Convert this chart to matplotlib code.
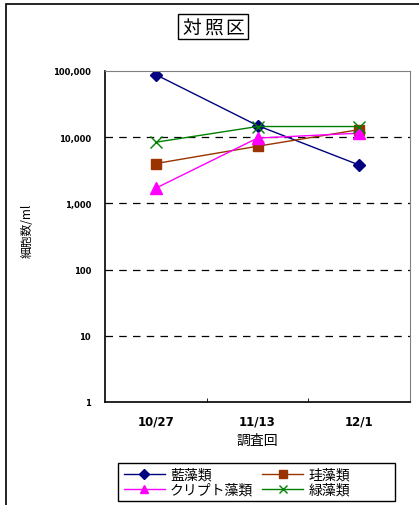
import numpy as np
import matplotlib.pyplot as plt
from matplotlib.patches import Rectangle
from matplotlib.ticker import FixedLocator, NullLocator

plt.rcParams['font.family'] = ['Noto Sans CJK JP', 'DejaVu Sans']

title = '対照区'
dates = ['10/27', '11/13', '12/1']
series_names = ['藍藻類', '珪藻類', 'クリプト藻類', '緑藻類']
blue_algae = [88000, 15000, 3800]
diatoms = [4000, 7300, 13000]
crypto = [1700, 9700, 11500]
green_algae = [8400, 14500, 14500]
y_ticks = [1, 10, 100, 1000, 10000, 100000]
y_labels = ['1', '10', '100', '1,000', '10,000', '100,000']

W, H = 419, 506
fig = plt.figure(figsize=(W / 100, H / 100), dpi=100)


def px_box(x0, y0, x1, y1, **kw):
    # rectangle given in pixel coords from the top-left corner
    fig.patches.append(Rectangle((x0 / W, 1 - y1 / H), (x1 - x0) / W, (y1 - y0) / H,
                                 transform=fig.transFigure, fill=False, **kw))


# outer frame
px_box(6, 5, 480, 520, edgecolor='black', linewidth=1.2)

ax = fig.add_axes([105 / W, 1 - 403 / H, (410 - 105) / W, (403 - 72) / H])
x = np.arange(len(dates))

l1, = ax.plot(x, blue_algae, color='#000080', marker='D', markersize=6, lw=1, label=series_names[0])
l2, = ax.plot(x, diatoms, color='#993300', marker='s', markersize=7, lw=1, label=series_names[1])
l3, = ax.plot(x, crypto, color='#FF00FF', marker='^', markersize=8, lw=1, label=series_names[2])
l4, = ax.plot(x, green_algae, color='#008000', marker='x', markersize=8, mew=1, lw=1, label=series_names[3])

ax.set_yscale('log')
ax.set_ylim(1, 100000)
ax.set_xlim(-0.5, 2.5)
ax.yaxis.set_major_locator(FixedLocator(y_ticks))
ax.yaxis.set_minor_locator(NullLocator())
ax.set_yticklabels(y_labels, fontsize=6, fontweight='bold', family='DejaVu Sans')
ax.tick_params(axis='y', length=0, pad=10)

for v in y_ticks[1:-1]:
    ax.axhline(v, color='black', lw=0.9, ls=(0, (6, 5)), zorder=0)

ax.set_xticks(x)
ax.set_xticklabels(dates, fontsize=8.5, fontweight='bold', family='DejaVu Sans')
ax.xaxis.set_minor_locator(FixedLocator([0.5, 1.5]))
ax.tick_params(axis='x', which='major', length=0, pad=9)
ax.tick_params(axis='x', which='minor', length=3, direction='in')
ax.set_xlabel('調査回', fontsize=10, labelpad=4)
ax.set_ylabel('細胞数/ml', fontsize=8.5)
ax.yaxis.set_label_coords(-0.235, 0.52)

for s in ['top', 'right']:
    ax.spines[s].set_color('#808080')
for s in ['left', 'bottom']:
    ax.spines[s].set_color('black')
    ax.spines[s].set_linewidth(1.2)

# title in a box, characters spread out like the original
px_box(178, 15, 248, 40, edgecolor='black', linewidth=1)
for i, ch in enumerate(title):
    fig.text((192 + 21.5 * i) / W, 1 - 28.5 / H, ch, fontsize=13.5,
             ha='center', va='center')

# legend order: row 1 = 藍藻類, 珪藻類 ; row 2 = クリプト藻類, 緑藻類
handles = [l1, l3, l2, l4]
px_box(118, 464, 395, 502, edgecolor='black', linewidth=1)
fig.legend(handles=handles, labels=[h.get_label() for h in handles],
           loc='upper left', bbox_to_anchor=(124 / W, 1 - 469 / H), ncol=2, fontsize=10,
           frameon=False, handlelength=2.95, borderpad=0, borderaxespad=0,
           columnspacing=0.65, labelspacing=0.05, handletextpad=0.36,
           markerscale=0.8)

fig.savefig('out.png', dpi=100)
